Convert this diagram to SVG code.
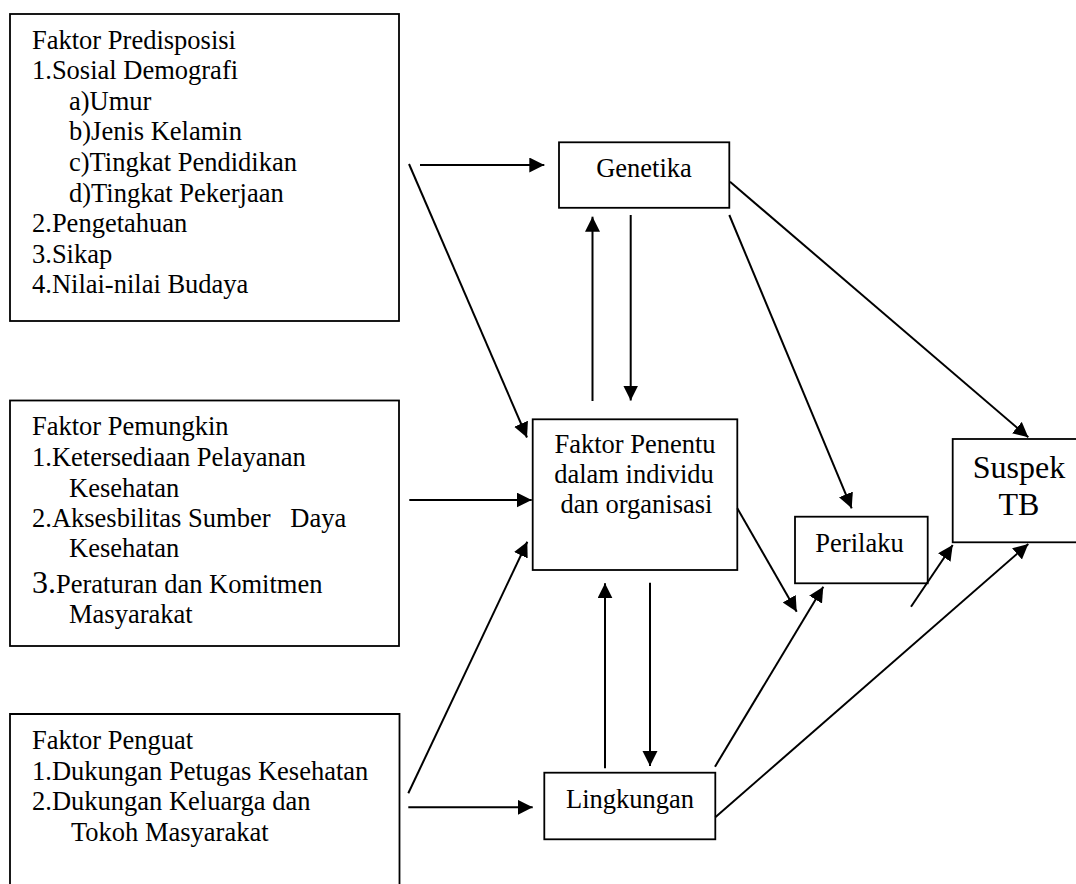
<svg xmlns="http://www.w3.org/2000/svg" width="1076" height="884" viewBox="0 0 1076 884">
<style>
.box{fill:#fff;stroke:#000;stroke-width:1.8}
text{font-family:"Liberation Serif","Times New Roman",serif;font-size:26.5px;fill:#000}
.c{text-anchor:middle}
.big{font-size:32px}
.a{stroke:#000;stroke-width:2;fill:none;marker-end:url(#ah)}
</style>
<defs>
<marker id="ah" markerUnits="userSpaceOnUse" markerWidth="16" markerHeight="16" refX="15" refY="7.5" orient="auto">
<path d="M0,0 L15,7.5 L0,15 z" fill="#000"/>
</marker>
</defs>
<rect width="1076" height="884" fill="#fff"/>
<g id="predisposisi">
<rect class="box" x="10" y="14" width="389" height="307"/>
<text x="32" y="48.5">Faktor Predisposisi</text>
<text x="32" y="79">1.Sosial Demografi</text>
<text x="69" y="109.7">a)Umur</text>
<text x="69" y="140.3">b)Jenis Kelamin</text>
<text x="69" y="170.9">c)Tingkat Pendidikan</text>
<text x="69" y="201.5">d)Tingkat Pekerjaan</text>
<text x="32" y="232.1">2.Pengetahuan</text>
<text x="32" y="262.7">3.Sikap</text>
<text x="32" y="293.3">4.Nilai-nilai Budaya</text>
</g>
<g id="pemungkin">
<rect class="box" x="10" y="400.5" width="389" height="245.5"/>
<text x="32" y="435">Faktor Pemungkin</text>
<text x="32" y="466">1.Ketersediaan Pelayanan</text>
<text x="69" y="496.7">Kesehatan</text>
<text x="32" y="527.3" xml:space="preserve">2.Aksesbilitas Sumber   Daya</text>
<text x="69" y="557.3">Kesehatan</text>
<text x="32" y="593.3"><tspan class="big">3.</tspan>Peraturan dan Komitmen</text>
<text x="69" y="623.3">Masyarakat</text>
</g>
<g id="penguat">
<path class="box" d="M10,890 L10,714 L399.5,714 L399.5,890"/>
<text x="32" y="749">Faktor Penguat</text>
<text x="32" y="780">1.Dukungan Petugas Kesehatan</text>
<text x="32" y="810">2.Dukungan Keluarga dan</text>
<text x="71" y="840.7">Tokoh Masyarakat</text>
</g>
<g id="genetika">
<rect class="box" x="559" y="142.3" width="170.3" height="65.5"/>
<text class="c" x="644" y="176.7">Genetika</text>
</g>
<g id="penentu">
<rect class="box" x="532.7" y="419.3" width="204.6" height="150.7"/>
<text class="c" x="635" y="453.3">Faktor Penentu</text>
<text class="c" x="634" y="483.3">dalam individu</text>
<text class="c" x="636.5" y="513.3">dan organisasi</text>
</g>
<g id="lingkungan">
<rect class="box" x="544.3" y="772.7" width="171" height="66.6"/>
<text class="c" x="630" y="808.3">Lingkungan</text>
</g>
<g id="perilaku">
<rect class="box" x="795" y="516.7" width="132.7" height="66.6"/>
<text class="c" x="859.5" y="551.7">Perilaku</text>
</g>
<g id="suspek">
<rect class="box" x="952.7" y="439" width="130" height="103.3"/>
<text class="c big" x="1019" y="478.3">Suspek</text>
<text class="c big" x="1019" y="515">TB</text>
</g>
<g id="connectors">
<line class="a" x1="420" y1="165" x2="544.3" y2="165"/>
<line class="a" x1="409" y1="164" x2="527" y2="437.5"/>
<line class="a" x1="592.5" y1="401" x2="592.5" y2="216.7"/>
<line class="a" x1="630.7" y1="215" x2="630.7" y2="400.5"/>
<line class="a" x1="729.3" y1="215" x2="851.7" y2="508.3"/>
<line class="a" x1="730" y1="181.7" x2="1028.3" y2="437.3"/>
<line class="a" x1="409.3" y1="500" x2="531.7" y2="500"/>
<line class="a" x1="408.3" y1="793.3" x2="527.3" y2="541.7"/>
<line class="a" x1="408.3" y1="807.3" x2="532.7" y2="807.3"/>
<line class="a" x1="605" y1="768.3" x2="605" y2="583.3"/>
<line class="a" x1="650" y1="582.7" x2="650" y2="766"/>
<line class="a" x1="737.3" y1="508.3" x2="796.7" y2="611.7"/>
<line class="a" x1="715" y1="766.7" x2="823.3" y2="586.7"/>
<line class="a" x1="911" y1="606.7" x2="952.7" y2="545"/>
<line class="a" x1="715.3" y1="817.3" x2="1028.3" y2="544"/>
</g>
</svg>
